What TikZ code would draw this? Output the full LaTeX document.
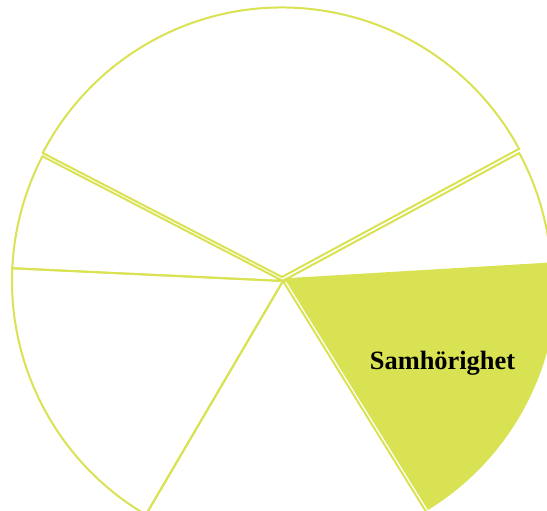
\documentclass[tikz,border=0pt]{standalone}
\usepackage{fontspec}
\setmainfont{Liberation Serif}
\definecolor{pie}{RGB}{217,226,82}
\begin{document}
\begin{tikzpicture}[x=1bp,y=1bp,
  sector/.style={draw=pie, line width=2bp, line join=miter}]
\useasboundingbox (0,0) rectangle (547,-511);
\clip (0,0) rectangle (547,-511);
% top sector
\draw[sector] (282,-277) -- ++(28.4:269.5) arc[start angle=28.4,end angle=152.6,radius=269.5] -- cycle;
% left upper sector
\draw[sector] (283,-281) -- ++(152.6:271) arc[start angle=152.6,end angle=177.3,radius=271] -- cycle;
% left lower sector
\draw[sector] (283,-281) -- ++(177.3:271) arc[start angle=177.3,end angle=239.6,radius=271] -- cycle;
% bottom sector
\draw[sector] (283,-281) -- ++(239.6:271) arc[start angle=239.6,end angle=301.8,radius=271] -- cycle;
% right sector
\draw[sector] (283.5,-280.5) -- ++(3.4:268) arc[start angle=3.4,end angle=28.4,radius=268] -- cycle;
% highlighted sector
\draw[sector, fill=pie] (286,-279.2) -- ++(-58.2:270) arc[start angle=-58.2,end angle=3.4,radius=270] -- cycle;
\node[font=\bfseries\fontsize{26.5}{30}\selectfont, anchor=base, inner sep=0pt] (lbl) at (442.5,-369) {Samhörighet};
\end{tikzpicture}
\end{document}
